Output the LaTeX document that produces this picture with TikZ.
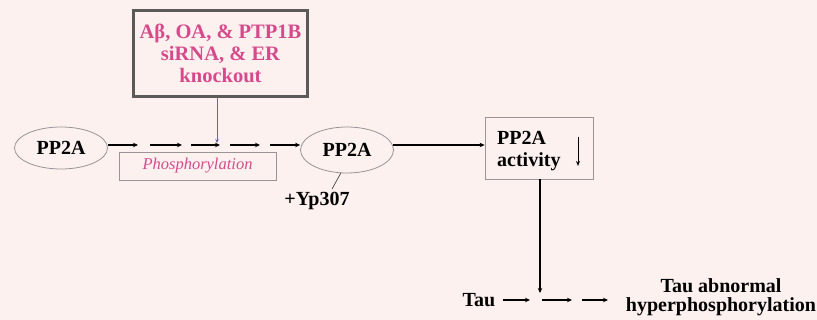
\documentclass[tikz,border=0pt]{standalone}
\usepackage{fontspec}
\setmainfont{LiberationSerif}[Extension=.ttf, UprightFont=*-Regular, BoldFont=*-Bold, ItalicFont=*-Italic, BoldItalicFont=*-BoldItalic]
\usetikzlibrary{shapes.geometric,arrows.meta}
\definecolor{bgpink}{HTML}{FCF1EE}
\definecolor{txtpink}{HTML}{D64A8C}
\definecolor{boxgray}{HTML}{9A9494}
\definecolor{linepurple}{HTML}{6B5FB5}
\tikzset{
  ell/.style={ellipse, draw=boxgray, line width=0.8pt, minimum width=93pt, minimum height=42pt, inner sep=0pt, font=\fontsize{20}{22}\selectfont\bfseries},
  arr/.style={-{Stealth[length=5pt,width=4.5pt]}, line width=1.1pt},
  plainbox/.style={draw=boxgray, line width=0.8pt, inner sep=0pt},
  lbl/.style={font=\fontsize{20}{22}\selectfont\bfseries, inner sep=0pt}
}
\begin{document}
\begin{tikzpicture}[x=1pt,y=-1pt]
\fill[bgpink] (0,0) rectangle (817,320);
\useasboundingbox (0,0) rectangle (817,320);
% top box
\node[draw=boxgray!60!black, line width=2.4pt, minimum width=174pt, minimum height=86pt, inner sep=0pt,
  align=center, text=txtpink, font=\fontsize{20.5}{21.7}\selectfont\bfseries] (top) at (220.5,53.5)
  {Aβ, OA, \& PTP1B\\siRNA, \& ER\\knockout};
% left ellipse
\node[ell] (e1) at (61,148) {PP2A};
% phosphorylation box
\node[plainbox, minimum width=157pt, minimum height=28pt, text=txtpink, font=\fontsize{16.5}{18}\selectfont\itshape] (phos) at (197.5,166) {Phosphorylation};
% arrow chain
\coordinate (s0) at (108,145);
\coordinate (t0) at (138,145);
\coordinate (s1) at (150,145);
\coordinate (t1) at (182,145);
\coordinate (s2) at (191,145);
\coordinate (t2) at (220,145);
\coordinate (s3) at (230,145);
\coordinate (t3) at (260,145);
\coordinate (s4) at (270,145);
\draw[arr] (s0) -- (t0);
\draw[arr] (s1) -- (t1);
\draw[arr] (s2) -- (t2);
\draw[arr] (s3) -- (t3);
% middle ellipse
\node[ell, minimum height=46pt] (e2) at (347,150) {PP2A};
\draw[arr] (s4) -- (e2.west |- s4);
% purple line
\coordinate (pt) at (217,97.5);
\coordinate (pb) at (217,143);
\draw[linepurple, line width=0.8pt, -{Stealth[length=4pt,width=3.5pt]}] (pt) -- (pb);
% +Yp307
\node[lbl] (yp) at (317,201) {+Yp307};
\coordinate (yl) at (332,189);
\draw[line width=0.6pt, black!80] (e2.255) -- (yl);
% activity box
\node[plainbox, minimum width=108pt, minimum height=62pt] (act) at (539,148) {};
\node[lbl, anchor=west] (pp) at (497,138) {PP2A};
\node[lbl, anchor=west] (ac) at (497,162) {activity};
\coordinate (da) at (578,137);
\coordinate (db) at (578,166);
\draw[-{Stealth[length=5pt,width=4pt]}, line width=1pt] (da) -- (db);
\coordinate (m1) at (393,145);
\draw[arr] (m1) -- (act.west |- m1);
% vertical
\coordinate (vd) at (540,293);
\draw[arr, line width=1.4pt] (act.south -| vd) -- (vd);
% tau row
\node[lbl] (tau) at (479,300) {Tau};
\coordinate (u1) at (530,300);
\coordinate (u2) at (542,300);
\coordinate (u3) at (572,300);
\coordinate (u4) at (582,300);
\coordinate (u5) at (608,300);
\draw[arr] ([xshift=7pt]tau.east) -- (u1);
\draw[arr] (u2) -- (u3);
\draw[arr] (u4) -- (u5);
\node[lbl, align=center, font=\fontsize{20}{19.5}\selectfont\bfseries] (res) at (721,297) {Tau abnormal\\hyperphosphorylation};
\end{tikzpicture}
\end{document}
